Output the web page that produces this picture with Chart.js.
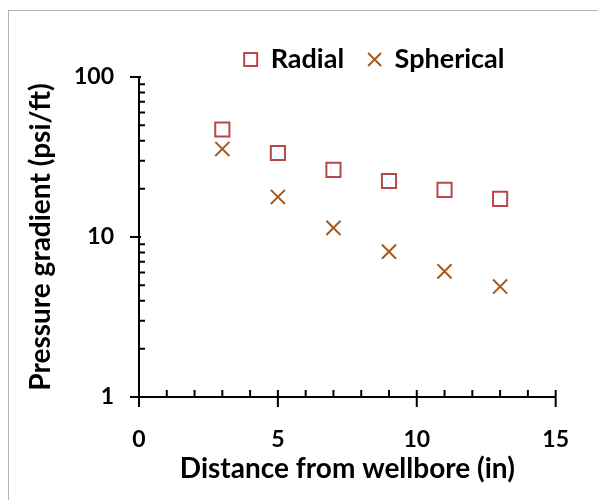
<!DOCTYPE html>
<html>
<head>
<meta charset="utf-8">
<script src="https://cdn.jsdelivr.net/npm/chart.js@4.4.0/dist/chart.umd.min.js"></script>
<style>
  body { margin: 0; background: #fff; }
  .frame {
    position: absolute;
    left: 8px;
    top: 10px;
    width: 600px;
    height: 500px;
    border-top: 1px solid #b4b4b4;
    border-left: 1px solid #b4b4b4;
    pointer-events: none;
  }
  canvas { position: absolute; left: 0; top: 0; }
</style>
</head>
<body>
<canvas id="myChart" width="598" height="500"></canvas>
<div class="frame"></div>
<script>
// distance from wellbore (in)
const distances = [3, 5, 7, 9, 11, 13];
// pressure gradient (psi/ft)
const radialGradient = [47, 33.5, 26.3, 22.4, 19.7, 17.3];
const sphericalGradient = [35.5, 17.8, 11.4, 8.1, 6.1, 4.9];
const xTickLabels = [0, 5, 10, 15];
const yTickLabels = [1, 10, 100];

const ctx = document.getElementById("myChart");
const fontFamily = "Lato, 'Open Sans', sans-serif";

const toPoints = (ys) => distances.map((x, i) => ({ x: x, y: ys[i] }));

// draws axis lines with major/minor ticks like the excel style chart
const axisPlugin = {
  id: "axisLines",
  afterLayout(chart) {
    // nudge legend right and down a bit
    chart.legend.left += 27;
    chart.legend.right += 27;
    chart.legend.top += 6;
    chart.legend.bottom += 6;
  },
  afterDraw(chart) {
    const { ctx: c } = chart;
    const xs = chart.scales.x;
    const ys = chart.scales.y;
    const x0 = xs.getPixelForValue(xs.min);
    const x1 = xs.getPixelForValue(xs.max);
    const yb = ys.getPixelForValue(ys.min);
    const yt = ys.getPixelForValue(ys.max);
    c.save();
    c.strokeStyle = "#000";
    c.lineWidth = 2;
    c.beginPath();
    // axis lines
    c.moveTo(x0 - 9, yb);
    c.lineTo(x1, yb);
    c.moveTo(x0, yt);
    c.lineTo(x0, yb + 10);
    // y major + minor ticks
    yTickLabels.forEach((v, i) => {
      const p = ys.getPixelForValue(v);
      c.moveTo(x0 - 9, p);
      c.lineTo(x0 + 2, p);
      if (i < yTickLabels.length - 1) {
        for (let k = 2; k < 10; k++) {
          const q = ys.getPixelForValue(v * k);
          c.moveTo(x0, q);
          c.lineTo(x0 + 6, q);
        }
      }
    });
    // x major + minor ticks
    for (let v = xs.min; v <= xs.max; v++) {
      const p = xs.getPixelForValue(v);
      if (xTickLabels.includes(v)) {
        c.moveTo(p, yb - 7);
        c.lineTo(p, yb + 10);
      } else {
        c.moveTo(p, yb - 7);
        c.lineTo(p, yb);
      }
    }
    c.stroke();
    c.restore();
  },
};

const chart = new Chart(ctx, {
  type: "scatter",
  data: {
    datasets: [
      {
        label: "Radial",
        data: toPoints(radialGradient),
        pointStyle: "rect",
        pointRadius: 10,
        pointHoverRadius: 10,
        borderWidth: 2,
        borderColor: "#b8474a",
        backgroundColor: "rgba(255,255,255,0)",
      },
      {
        label: "Spherical",
        data: toPoints(sphericalGradient),
        pointStyle: "crossRot",
        pointRadius: 10,
        pointHoverRadius: 10,
        borderWidth: 2,
        borderColor: "#a85a1c",
        backgroundColor: "#a85a1c",
      },
    ],
  },
  options: {
    responsive: false,
    animation: false,
    layout: {
      padding: { left: 0, right: 41, top: 16, bottom: 0 },
    },
    plugins: {
      tooltip: { enabled: false },
      legend: {
        display: true,
        position: "top",
        fullSize: false,
        labels: {
          usePointStyle: true,
          boxWidth: 13,
          boxHeight: 13,
          padding: 24,
          color: "#000",
          font: { family: fontFamily, size: 27, weight: "bold" },
        },
      },
    },
    scales: {
      x: {
        type: "linear",
        min: 0,
        max: 15,
        afterBuildTicks: (scale) => {
          scale.ticks = xTickLabels.map((v) => ({ value: v }));
        },
        afterFit: (scale) => {
          scale.height = 103;
        },
        grid: { display: false, drawTicks: false },
        border: { display: false },
        ticks: {
          padding: 29,
          color: "#000",
          font: { family: fontFamily, size: 23, weight: "bold" },
        },
        title: {
          display: true,
          text: "Distance from wellbore (in)",
          color: "#000",
          padding: { top: 0, bottom: 14 },
          font: { family: fontFamily, size: 28, weight: "bold" },
        },
      },
      y: {
        type: "logarithmic",
        min: 1,
        max: 100,
        afterBuildTicks: (scale) => {
          scale.ticks = yTickLabels.map((v) => ({ value: v }));
        },
        afterFit: (scale) => {
          scale.width = 139;
        },
        grid: { display: false, drawTicks: false },
        border: { display: false },
        ticks: {
          padding: 25,
          color: "#000",
          font: { family: fontFamily, size: 23, weight: "bold" },
          callback: (v) => String(v),
        },
        title: {
          display: true,
          text: "Pressure gradient (psi/ft)",
          color: "#000",
          padding: { top: 24, bottom: 0 },
          font: { family: fontFamily, size: 28, weight: "bold" },
        },
      },
    },
  },
  plugins: [axisPlugin],
});
</script>
</body>
</html>
